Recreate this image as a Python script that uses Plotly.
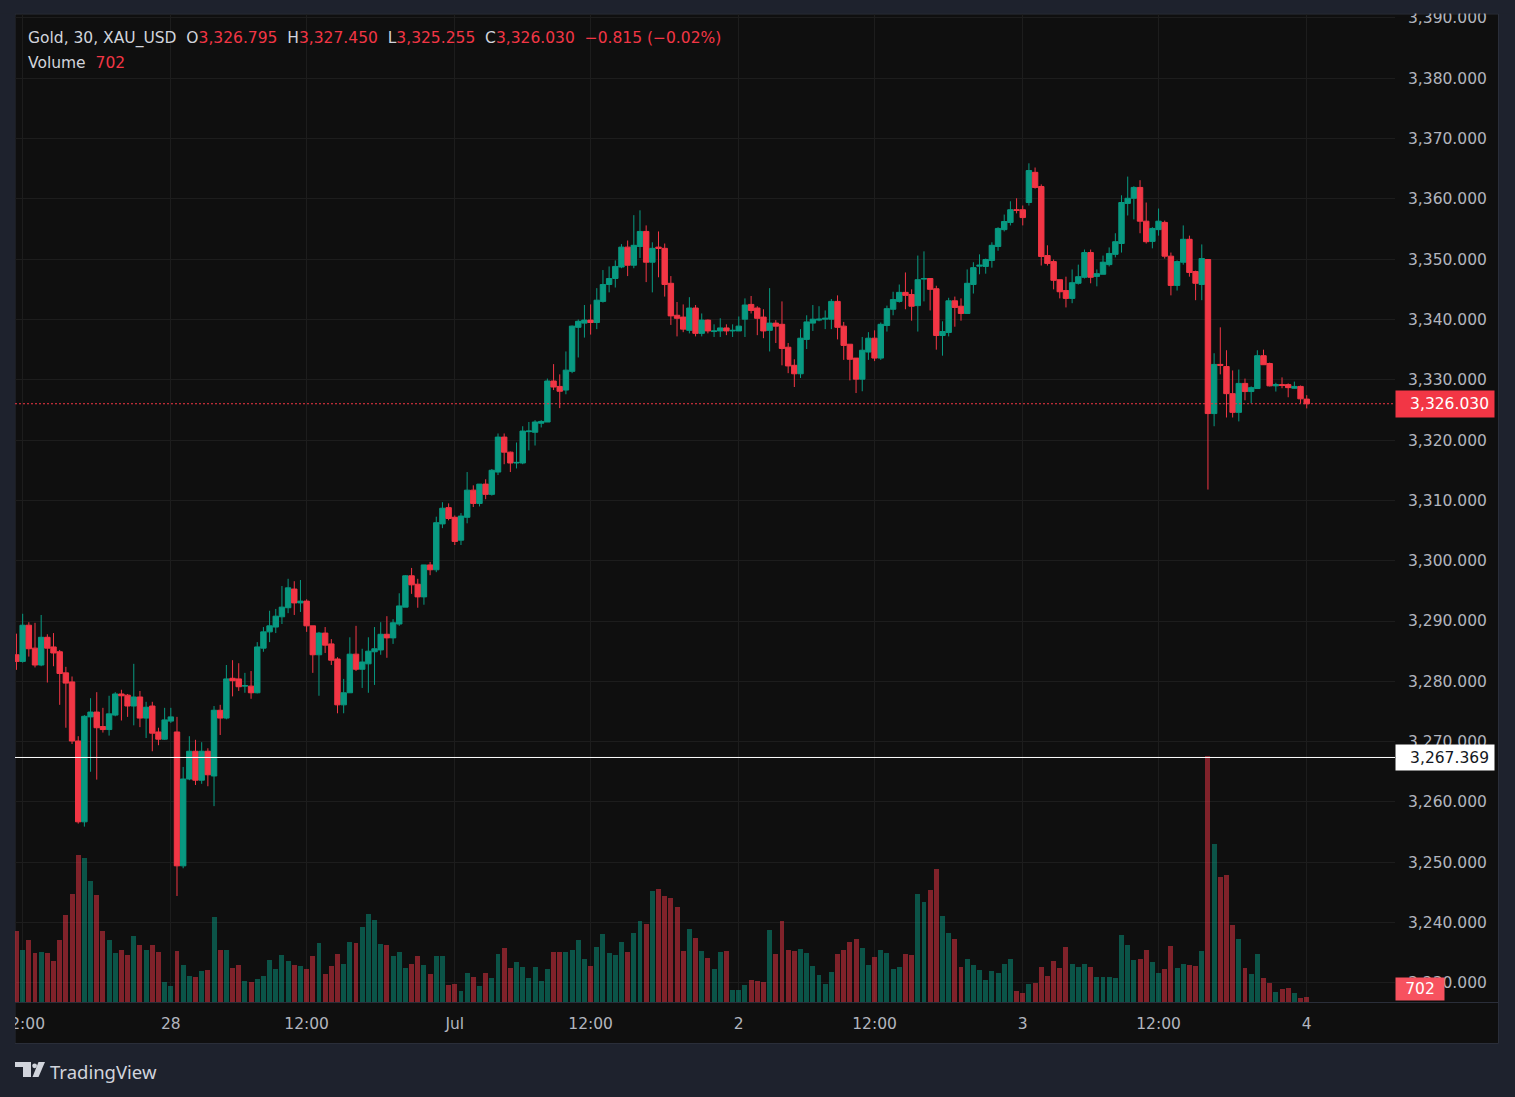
import plotly.graph_objects as go

# ---------------- data (30-min bars) ----------------
opens = [3284.4, 3283.3, 3289.3, 3285.5, 3282.7, 3287.3, 3285.7, 3284.9, 3281.4, 3279.9,
         3270.1, 3256.7, 3274.1, 3274.9, 3272.5, 3272.0, 3274.4, 3277.9, 3277.7, 3275.9,
         3277.4, 3273.9, 3275.9, 3271.6, 3270.4, 3273.4, 3271.6, 3249.4, 3263.8, 3268.4,
         3263.6, 3268.4, 3264.3, 3275.2, 3273.9, 3280.5, 3280.4, 3279.2, 3279.2, 3278.1,
         3285.5, 3288.2, 3289.0, 3290.7, 3292.2, 3295.3, 3293.0, 3293.3, 3289.2, 3284.4,
         3288.0, 3286.2, 3283.7, 3276.1, 3278.1, 3284.5, 3282.0, 3282.9, 3284.9, 3285.2,
         3287.8, 3287.2, 3289.5, 3292.3, 3297.5, 3296.1, 3294.0, 3299.3, 3298.5, 3306.1,
         3308.8, 3307.2, 3303.4, 3307.2, 3311.7, 3309.5, 3312.7, 3311.0, 3314.7, 3320.5,
         3318.0, 3316.2, 3316.2, 3321.4, 3321.3, 3322.8, 3323.0, 3329.8, 3328.9, 3328.3,
         3331.4, 3338.7, 3339.4, 3339.9, 3339.5, 3343.0, 3345.8, 3346.8, 3348.7, 3352.0,
         3349.0, 3352.1, 3354.6, 3349.5, 3352.0, 3351.8, 3346.0, 3340.7, 3340.4, 3338.2,
         3341.9, 3337.7, 3339.9, 3338.0, 3338.1, 3338.6, 3338.1, 3338.1, 3340.05, 3342.5,
         3341.9, 3340.4, 3338.2, 3339.4, 3339.2, 3335.4, 3332.4, 3331.0, 3336.7, 3339.4,
         3339.9, 3340.05, 3340.05, 3343.0, 3338.9, 3335.9, 3333.6, 3330.1, 3334.6, 3336.9,
         3333.6, 3339.0, 3341.7, 3343.0, 3344.5, 3344.15, 3342.3, 3346.7, 3346.8, 3345.1,
         3337.35, 3337.85, 3343.1, 3342.2, 3341.0, 3345.8, 3348.85, 3348.8, 3349.8, 3352.1,
         3354.9, 3356.1, 3358.2, 3358.2, 3359.4, 3364.4, 3362.05, 3350.6, 3349.6, 3346.6,
         3344.8, 3343.5, 3346.0, 3347.0, 3351.1, 3347.15, 3347.5, 3349.1, 3350.8, 3352.6,
         3359.25, 3360.1, 3361.9, 3356.3, 3352.95, 3354.9, 3356.1, 3350.5, 3345.65, 3349.5,
         3353.3, 3347.95, 3345.8, 3349.95, 3324.4, 3332.55, 3332.2, 3327.7, 3324.6, 3329.4,
         3328.05, 3328.55, 3334.0, 3332.7, 3329.0, 3329.2, 3329.2, 3328.6, 3328.9, 3326.795]

highs = [3287.9, 3291.2, 3289.8, 3289.7, 3291.0, 3287.8, 3288.0, 3285.2, 3282.4, 3280.8,
         3270.9, 3274.4, 3277.2, 3278.2, 3275.6, 3277.6, 3278.2, 3278.6, 3277.9, 3282.9,
         3278.4, 3276.6, 3276.6, 3272.3, 3275.6, 3275.6, 3274.1, 3265.8, 3270.9, 3270.3,
         3269.9, 3268.9, 3275.9, 3276.1, 3282.7, 3283.5, 3283.0, 3281.4, 3281.7, 3286.5,
         3289.0, 3291.7, 3292.0, 3295.8, 3297.0, 3296.6, 3296.8, 3293.6, 3289.2, 3288.2,
         3289.0, 3287.0, 3284.0, 3280.4, 3287.3, 3289.2, 3285.4, 3287.3, 3289.0, 3289.8,
         3290.8, 3290.3, 3294.6, 3297.6, 3298.8, 3297.0, 3299.3, 3299.8, 3307.3, 3309.7,
         3309.5, 3307.5, 3307.9, 3314.7, 3312.5, 3312.7, 3313.5, 3315.2, 3321.1, 3321.1,
         3318.1, 3319.6, 3322.3, 3323.0, 3323.3, 3323.3, 3330.2, 3332.6, 3330.9, 3334.7,
         3339.0, 3340.0, 3342.4, 3342.5, 3345.2, 3348.2, 3348.8, 3349.8, 3352.5, 3353.1,
         3357.3, 3358.1, 3355.6, 3352.8, 3354.6, 3352.6, 3347.2, 3342.9, 3342.5, 3343.7,
         3342.4, 3341.0, 3340.0, 3339.2, 3340.2, 3339.2, 3339.2, 3340.5, 3343.5, 3343.9,
         3342.2, 3341.7, 3345.2, 3339.9, 3343.0, 3336.1, 3333.4, 3338.4, 3340.7, 3342.4,
         3342.2, 3341.5, 3343.4, 3344.0, 3339.6, 3335.9, 3333.6, 3337.1, 3337.9, 3338.2,
         3339.5, 3342.3, 3344.6, 3345.8, 3347.8, 3345.0, 3350.6, 3351.3, 3346.8, 3345.6,
         3339.7, 3343.6, 3343.8, 3343.5, 3348.3, 3349.5, 3350.8, 3350.1, 3352.8, 3355.3,
         3357.4, 3359.6, 3360.1, 3358.9, 3365.9, 3365.2, 3362.4, 3352.3, 3349.95, 3346.6,
         3347.1, 3348.3, 3349.1, 3351.6, 3351.6, 3348.3, 3350.6, 3351.95, 3354.3, 3360.6,
         3363.7, 3362.1, 3363.1, 3359.4, 3355.3, 3358.4, 3356.4, 3351.1, 3349.8, 3355.6,
         3353.9, 3348.1, 3352.45, 3349.95, 3334.4, 3338.7, 3334.9, 3331.55, 3331.7, 3330.2,
         3328.9, 3334.9, 3335.0, 3332.85, 3329.5, 3330.4, 3329.4, 3329.7, 3329.05, 3327.45]

lows = [3281.9, 3283.1, 3284.1, 3282.3, 3282.5, 3279.8, 3282.5, 3276.1, 3272.3, 3269.6,
        3256.4, 3255.9, 3265.0, 3263.7, 3271.5, 3271.0, 3274.2, 3273.5, 3274.1, 3272.7,
        3272.4, 3270.6, 3268.4, 3269.4, 3270.3, 3273.1, 3244.4, 3249.0, 3263.6, 3262.8,
        3263.0, 3262.6, 3259.3, 3271.1, 3273.7, 3277.5, 3278.4, 3278.1, 3277.1, 3278.0,
        3284.9, 3286.5, 3288.0, 3289.5, 3291.3, 3291.0, 3291.5, 3288.2, 3281.4, 3277.6,
        3284.7, 3282.7, 3274.7, 3274.7, 3278.1, 3281.7, 3278.9, 3278.1, 3279.4, 3284.4,
        3283.9, 3286.2, 3289.2, 3292.3, 3294.5, 3292.2, 3292.7, 3297.6, 3298.1, 3305.4,
        3306.7, 3302.6, 3302.6, 3306.2, 3308.9, 3309.0, 3310.2, 3310.8, 3314.2, 3316.0,
        3314.7, 3315.3, 3316.0, 3318.3, 3319.1, 3322.1, 3323.0, 3328.3, 3325.3, 3327.6,
        3331.1, 3333.7, 3337.0, 3337.5, 3338.4, 3342.8, 3344.5, 3345.3, 3348.5, 3347.2,
        3348.5, 3350.2, 3346.2, 3344.5, 3347.0, 3343.8, 3339.1, 3337.2, 3337.9, 3337.7,
        3337.2, 3337.2, 3337.7, 3337.1, 3337.1, 3337.4, 3337.1, 3338.1, 3337.1, 3341.0,
        3337.4, 3336.9, 3334.7, 3336.1, 3332.4, 3331.1, 3328.8, 3330.3, 3335.1, 3338.1,
        3339.7, 3338.4, 3338.4, 3336.7, 3333.3, 3329.9, 3327.8, 3328.1, 3333.3, 3333.1,
        3333.3, 3338.0, 3340.7, 3342.8, 3341.7, 3339.8, 3338.0, 3343.0, 3341.5, 3335.0,
        3334.0, 3337.2, 3338.8, 3339.8, 3341.0, 3344.3, 3347.5, 3347.6, 3348.6, 3351.4,
        3354.6, 3355.6, 3357.6, 3355.6, 3358.9, 3361.7, 3348.95, 3348.95, 3345.0, 3343.5,
        3342.0, 3342.7, 3345.8, 3346.8, 3346.0, 3345.5, 3347.5, 3348.8, 3350.3, 3351.1,
        3357.25, 3356.6, 3354.3, 3352.6, 3351.8, 3353.9, 3350.1, 3344.0, 3344.8, 3349.1,
        3347.1, 3343.2, 3343.2, 3311.8, 3322.3, 3330.9, 3323.75, 3323.75, 3323.1, 3326.6,
        3326.1, 3328.55, 3332.5, 3328.9, 3328.05, 3328.6, 3327.1, 3328.55, 3326.1, 3325.255]

closes = [3283.3, 3289.3, 3285.4, 3282.7, 3287.3, 3285.5, 3284.7, 3281.3, 3279.7, 3270.1,
          3256.7, 3274.2, 3274.9, 3272.3, 3272.0, 3274.6, 3277.9, 3277.6, 3275.9, 3277.4,
          3273.9, 3275.7, 3271.4, 3270.4, 3273.6, 3274.1, 3249.4, 3263.8, 3268.4, 3263.6,
          3268.4, 3264.5, 3275.2, 3273.9, 3280.4, 3280.1, 3279.1, 3279.3, 3278.1, 3285.7,
          3288.2, 3289.2, 3290.8, 3292.3, 3295.5, 3293.0, 3293.3, 3289.2, 3284.4, 3288.0,
          3286.0, 3283.5, 3276.1, 3278.1, 3284.5, 3282.0, 3283.2, 3285.0, 3285.4, 3287.8,
          3287.2, 3289.7, 3292.5, 3297.5, 3296.0, 3294.0, 3299.3, 3298.5, 3306.3, 3308.7,
          3307.0, 3303.2, 3307.4, 3311.7, 3309.5, 3312.7, 3311.0, 3315.0, 3320.5, 3318.0,
          3316.2, 3316.3, 3321.5, 3321.5, 3323.0, 3323.1, 3329.8, 3328.8, 3328.1, 3331.6,
          3338.9, 3339.7, 3339.9, 3339.5, 3343.2, 3345.8, 3346.8, 3348.8, 3352.0, 3349.0,
          3352.3, 3354.6, 3349.5, 3351.8, 3351.8, 3345.8, 3340.6, 3340.2, 3338.4, 3341.9,
          3337.7, 3339.9, 3338.1, 3338.1, 3338.6, 3338.1, 3338.2, 3338.9, 3342.4, 3341.5,
          3340.2, 3338.1, 3339.4, 3338.9, 3335.2, 3332.3, 3331.0, 3336.9, 3339.6, 3340.05,
          3340.05, 3340.2, 3343.0, 3338.7, 3335.7, 3333.4, 3330.1, 3334.9, 3336.9, 3333.6,
          3339.2, 3341.8, 3343.3, 3344.5, 3344.0, 3342.2, 3346.6, 3346.8, 3345.0, 3337.35,
          3338.0, 3343.1, 3342.0, 3341.0, 3346.0, 3348.6, 3349.0, 3349.95, 3352.3, 3355.1,
          3356.25, 3358.2, 3358.1, 3356.9, 3364.7, 3361.9, 3350.45, 3349.3, 3346.5, 3344.6,
          3343.5, 3346.1, 3347.1, 3351.1, 3347.0, 3347.6, 3349.5, 3350.95, 3352.9, 3359.4,
          3360.1, 3361.9, 3356.3, 3352.9, 3355.1, 3356.3, 3350.5, 3345.65, 3349.6, 3353.3,
          3347.8, 3346.0, 3350.1, 3324.4, 3332.55, 3332.4, 3327.7, 3324.6, 3329.4, 3328.05,
          3328.7, 3334.0, 3332.5, 3329.0, 3329.2, 3329.05, 3328.7, 3328.9, 3326.845, 3326.03]

volumes = [9940, 7280, 8680, 6860, 7000, 6860, 5740, 8680, 12180, 15120,
           20580, 20160, 16940, 14980, 9940, 8680, 6860, 7280, 6580, 9240,
           7980, 7280, 7980, 7000, 2800, 2240, 7140, 5180, 3640, 3500,
           4340, 4480, 11900, 7280, 7280, 4760, 5180, 2940, 2800, 3220,
           3640, 5880, 4620, 6580, 5740, 5180, 5040, 4620, 6440, 8260,
           3920, 5040, 6720, 5320, 8400, 8260, 10500, 12320, 11480, 8120,
           7980, 6440, 7000, 4760, 5320, 6440, 5180, 3920, 6440, 6440,
           2380, 2520, 1540, 4060, 3500, 2240, 4060, 3360, 6720, 7560,
           4760, 5600, 4900, 3360, 4900, 2940, 4620, 7000, 7000, 7000,
           7280, 8680, 6020, 5040, 7700, 9520, 6860, 6580, 8400, 7000,
           9660, 11340, 10920, 15540, 15820, 14840, 14560, 13300, 7140, 10220,
           8960, 7140, 6160, 4620, 7000, 7140, 1680, 1680, 2380, 3080,
           2940, 2800, 10080, 6720, 11340, 7280, 7140, 7420, 6860, 5040,
           3780, 2520, 4200, 6720, 7280, 8400, 8820, 7560, 5180, 6300,
           7280, 6860, 4620, 4900, 6720, 6580, 15120, 14000, 15680, 18620,
           12040, 9660, 8820, 4900, 6020, 5180, 4480, 3080, 4340, 4060,
           5320, 6020, 1540, 1260, 2520, 2660, 4900, 3640, 5740, 4760,
           7700, 5320, 4900, 5320, 4900, 3500, 3500, 3500, 3360, 9380,
           7980, 5880, 6020, 7280, 5600, 4060, 4620, 7840, 4760, 5320,
           5180, 5040, 7140, 34580, 22120, 17500, 17780, 10780, 8820, 4760,
           3920, 6720, 3360, 2660, 1400, 1820, 1960, 1260, 560, 702]

tick_index = [1, 25, 47, 71, 93, 117, 139, 163, 185, 209]
tick_text = ["12:00", "28", "12:00", "Jul", "12:00", "2", "12:00", "3", "12:00", "4"]
symbol_title = "Gold, 30, XAU_USD"
marked_level = 3267.369

# ---------------- styling ----------------
W, H = 1515, 1097
ML, MR, MT, MB = 15, 120, 14, 95
PW = W - ML - MR
PH = H - MT - MB

def px(x):
    return (x - ML) / PW

def py(y):
    return (H - MB - y) / PH

UP, DOWN = "#089981", "#f23645"
UPV, DOWNV = "rgba(8,153,129,0.5)", "rgba(242,54,69,0.5)"
FRAME = "#1e222d"
PANEL = "#0f0f0f"
GRID = "#1d1d1d"
TXT = "#b2b5be"
FONT = "DejaVu Sans"
FS = 15.5

n = len(closes)
xs = list(range(n))
vol_colors = [UPV if c >= o else DOWNV for o, c in zip(opens, closes)]

fig = go.Figure()
fig.add_trace(go.Bar(x=xs, y=volumes, marker=dict(color=vol_colors, line=dict(width=0)),
                     width=0.8, yaxis="y", hoverinfo="skip", showlegend=False))
fig.add_trace(go.Candlestick(
    x=xs, open=opens, high=highs, low=lows, close=closes, yaxis="y2",
    increasing=dict(line=dict(color=UP, width=1), fillcolor=UP),
    decreasing=dict(line=dict(color=DOWN, width=1), fillcolor=DOWN),
    whiskerwidth=0, showlegend=False))

last_o, last_h, last_l, last_c = opens[-1], highs[-1], lows[-1], closes[-1]
chg = last_c - closes[-2]
pct = chg / closes[-2] * 100
val_col = DOWN if last_c < opens[-1] else UP

def fmt(v):
    return f"{v:,.3f}"

def signed(v, d):
    s = f"{abs(v):.{d}f}"
    return ("\u2212" if v < 0 else "+") + s

sp = "\u00a0\u00a0"
legend1 = (f"{symbol_title}{sp}O<span style='color:{val_col}'>{fmt(last_o)}</span>{sp}"
           f"H<span style='color:{val_col}'>{fmt(last_h)}</span>{sp}"
           f"L<span style='color:{val_col}'>{fmt(last_l)}</span>{sp}"
           f"C<span style='color:{val_col}'>{fmt(last_c)}</span>{sp}"
           f"<span style='color:{val_col}'>{signed(chg, 3)} ({signed(pct, 2)}%)</span>")
legend2 = f"Volume{sp}<span style='color:{val_col}'>{volumes[-1]}</span>"

vol_top = 138700
price_lo, price_hi = 3226.82, 3390.66

def poly(points):
    return "M " + " L ".join(f"{px(a):.5f},{py(b):.5f}" for a, b in points) + " Z"

shapes = [
    # chart panel
    dict(type="rect", xref="paper", yref="paper", x0=px(15), x1=px(1498.5), y0=py(1043.5), y1=py(14),
         fillcolor=PANEL, line=dict(color="#2a2e39", width=1), layer="below"),
    # separator above the time scale
    dict(type="line", xref="paper", yref="paper", x0=0, x1=px(1498), y0=py(1002.5), y1=py(1002.5),
         line=dict(color="#2a2e39", width=1), layer="above"),
    # last price dotted line
    dict(type="line", xref="paper", yref="y2", x0=0, x1=1, y0=last_c, y1=last_c,
         line=dict(color=DOWN, width=1, dash="2px,2px"), layer="above"),
    # marked horizontal level
    dict(type="line", xref="paper", yref="y2", x0=0, x1=1, y0=marked_level, y1=marked_level,
         line=dict(color="#ffffff", width=1), layer="above"),
    # frame strips (clip labels that run past the pane)
    dict(type="rect", xref="paper", yref="paper", x0=px(0), x1=px(15), y0=py(1097), y1=py(0),
         fillcolor=FRAME, line=dict(width=0), layer="above"),
    dict(type="rect", xref="paper", yref="paper", x0=px(0), x1=px(1515), y0=py(13.5), y1=py(0),
         fillcolor=FRAME, line=dict(width=0), layer="above"),
    # TradingView logo mark
    dict(type="path", xref="paper", yref="paper",
         path=poly([(15, 1062), (31, 1062), (31, 1077), (23, 1077), (23, 1067), (15, 1067)]),
         fillcolor="#d1d4dc", line=dict(width=0), layer="above"),
    dict(type="circle", xref="paper", yref="paper", x0=px(32.2), x1=px(37.0), y0=py(1068.2), y1=py(1063.4),
         fillcolor="#d1d4dc", line=dict(width=0), layer="above"),
    dict(type="path", xref="paper", yref="paper",
         path=poly([(38.5, 1062), (45, 1062), (38.5, 1077), (32.5, 1077)]),
         fillcolor="#d1d4dc", line=dict(width=0), layer="above"),
]

annotations = [
    dict(xref="paper", yref="paper", x=px(26), y=py(38), xanchor="left", yanchor="middle",
         text=legend1, showarrow=False, font=dict(family=FONT, size=FS, color="#d1d4dc")),
    dict(xref="paper", yref="paper", x=px(26), y=py(63), xanchor="left", yanchor="middle",
         text=legend2, showarrow=False, font=dict(family=FONT, size=FS, color="#d1d4dc")),
    dict(xref="paper", yref="y2", x=1, y=last_c, xanchor="left", yanchor="middle",
         text=fmt(last_c), showarrow=False, bgcolor=DOWN, borderpad=5, width=88, height=16,
         align="right", font=dict(family=FONT, size=FS, color="#ffffff")),
    dict(xref="paper", yref="y2", x=1, y=marked_level, xanchor="left", yanchor="middle",
         text=fmt(marked_level), showarrow=False, bgcolor="#ffffff", borderpad=5, width=88, height=15,
         align="right", font=dict(family=FONT, size=FS, color="#131722")),
    dict(xref="paper", yref="y", x=1, y=0, xanchor="left", yanchor="bottom", yshift=1,
         text=str(volumes[-1]), showarrow=False, bgcolor="#f7525f", borderpad=3, width=42, height=16,
         align="center", font=dict(family=FONT, size=FS, color="#ffffff")),
    dict(xref="paper", yref="paper", x=px(48), y=py(1071), xanchor="left", yanchor="middle",
         text="TradingView", showarrow=False, font=dict(family="Noto Sans", size=18.5, color="#d1d4dc")),
]

fig.update_layout(
    width=W, height=H,
    margin=dict(l=ML, r=MR, t=MT, b=MB, pad=0, autoexpand=False),
    paper_bgcolor=FRAME, plot_bgcolor=PANEL,
    showlegend=False, bargap=0, boxgap=0.12, boxgroupgap=0,
    xaxis=dict(range=[-0.24, 223.3], tickmode="array", tickvals=tick_index, ticktext=tick_text,
               showgrid=True, gridcolor=GRID, gridwidth=1, zeroline=False, showline=False,
               ticks="", ticklabelstandoff=10, rangeslider=dict(visible=False), automargin=False,
               tickfont=dict(family=FONT, size=FS, color=TXT)),
    yaxis=dict(range=[0, vol_top], visible=False, showgrid=False, zeroline=False, fixedrange=True),
    yaxis2=dict(overlaying="y", side="right", range=[price_lo, price_hi], tick0=3230, dtick=10,
                tickformat=",.3f", showgrid=True, gridcolor=GRID, gridwidth=1, zeroline=False,
                showline=False, ticks="", ticklabelstandoff=12, automargin=False,
                tickfont=dict(family=FONT, size=FS, color=TXT)),
    shapes=shapes, annotations=annotations,
)

fig.write_html("out.html")
